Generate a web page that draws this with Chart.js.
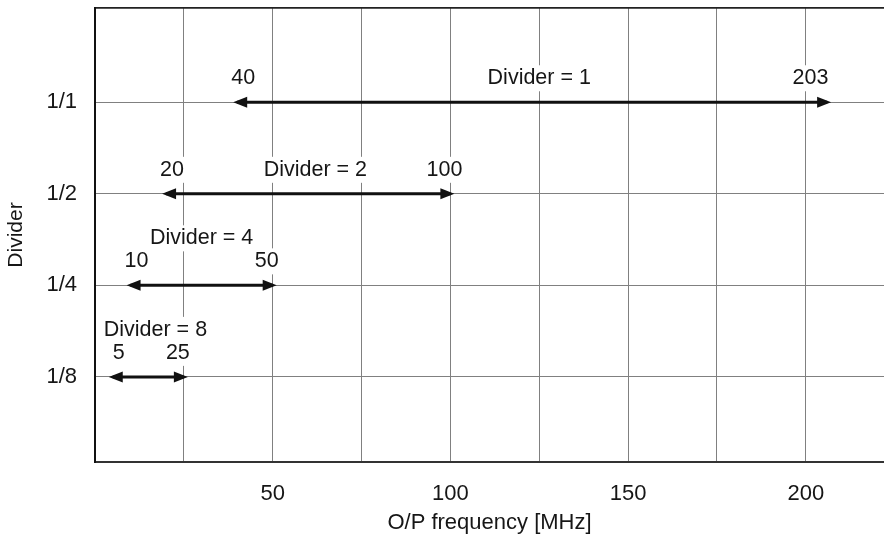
<!DOCTYPE html>
<html>
<head>
<meta charset="utf-8">
<script src="https://cdn.jsdelivr.net/npm/chart.js@4.4.0/dist/chart.umd.min.js"></script>
<style>
  html, body { margin: 0; padding: 0; background: #fff; }
  #wrap { width: 884px; height: 540px; }
</style>
</head>
<body>
<div id="wrap"><canvas id="myChart" width="884" height="540"></canvas></div>
<script>
// Divider rows (top to bottom) and their output frequency ranges in MHz
var dividerLabels = ['1/1', '1/2', '1/4', '1/8'];
var rowPos = [4, 3, 2, 1];
var startMHz = [40, 20, 10, 5];
var endMHz = [206, 100, 50, 25];
var startText = ['40', '20', '10', '5'];
var endText = ['203', '100', '50', '25'];
var captionText = ['Divider = 1', 'Divider = 2', 'Divider = 4', 'Divider = 8'];
var captionAt = [125, 62, 30, 17];
var captionRow = [0, 0, 1, 1];
var xTickLabels = [50, 100, 150, 200];

var FONT = "'Liberation Sans', Arial, Helvetica, sans-serif";
var TEXT = '#161616';

var datasets = [];
for (let i = 0; i < dividerLabels.length; i++) {
    datasets.push({
        label: captionText[i],
        data: [{ x: startMHz[i], y: rowPos[i] }, { x: endMHz[i], y: rowPos[i] }],
        borderColor: '#111',
        borderWidth: 3,
        pointRadius: 0,
        fill: false
    });
}

function boxText(ctx, txt, x, y) {
    const w = ctx.measureText(txt).width;
    ctx.fillStyle = '#fff';
    ctx.fillRect(x - w / 2 - 3, y - 13, w + 6, 26);
    ctx.fillStyle = TEXT;
    ctx.fillText(txt, x, y);
}

// number labels and captions, then arrow heads
const arrows = {
    id: 'arrows',
    beforeDatasetsDraw(chart) {
        const ctx = chart.ctx;
        const xs = chart.scales.x, ys = chart.scales.y;
        ctx.save();
        ctx.font = '21.5px ' + FONT;
        ctx.textAlign = 'center';
        ctx.textBaseline = 'middle';
        for (let i = 0; i < rowPos.length; i++) {
            const y = ys.getPixelForValue(rowPos[i]);
            boxText(ctx, startText[i], xs.getPixelForValue(parseFloat(startText[i])) + 6, y - 24);
            boxText(ctx, endText[i], xs.getPixelForValue(parseFloat(endText[i])) - 6, y - 24);
            boxText(ctx, captionText[i], xs.getPixelForValue(captionAt[i]), y - 24 - captionRow[i] * 23);
        }
        ctx.restore();
    },
    afterDatasetsDraw(chart) {
        const ctx = chart.ctx;
        ctx.save();
        ctx.fillStyle = '#111';
        chart.data.datasets.forEach(function (ds, i) {
            const pts = chart.getDatasetMeta(i).data;
            const a = pts[0], b = pts[pts.length - 1];
            // left head
            let tip = a.x - 4;
            ctx.beginPath();
            ctx.moveTo(tip, a.y);
            ctx.lineTo(tip + 14, a.y - 5.5);
            ctx.lineTo(tip + 14, a.y + 5.5);
            ctx.closePath();
            ctx.fill();
            // right head
            tip = b.x + 4;
            ctx.beginPath();
            ctx.moveTo(tip, b.y);
            ctx.lineTo(tip - 14, b.y - 5.5);
            ctx.lineTo(tip - 14, b.y + 5.5);
            ctx.closePath();
            ctx.fill();
        });
        ctx.restore();
    }
};

const config = {
    type: 'line',
    data: { datasets: datasets },
    options: {
        responsive: false,
        animation: false,
        layout: { padding: { top: 8, right: 0, left: 0, bottom: 0 } },
        plugins: { legend: { display: false }, tooltip: { enabled: false } },
        scales: {
            x: {
                type: 'linear',
                min: 0,
                max: 222,
                afterFit: function (s) { s.height = 78; s.paddingLeft = 0; s.paddingRight = 0; },
                grid: {
                    color: '#808080',
                    lineWidth: 1,
                    drawTicks: false
                },
                border: { display: true, color: '#333', width: 2 },
                ticks: {
                    stepSize: 25,
                    includeBounds: false,
                    autoSkip: false,
                    maxRotation: 0,
                    padding: 19,
                    color: TEXT,
                    font: { family: FONT, size: 22 },
                    callback: function (v) { return xTickLabels.indexOf(v) >= 0 ? String(v) : ''; }
                },
                title: {
                    display: true,
                    text: 'O/P frequency [MHz]',
                    color: TEXT,
                    font: { family: FONT, size: 22 },
                    padding: { top: 0, bottom: 4 }
                }
            },
            // top frame line
            x2: {
                type: 'linear',
                position: 'top',
                min: 0,
                max: 222,
                afterFit: function (s) { s.height = 0; s.paddingLeft = 0; s.paddingRight = 0; },
                grid: { display: false, drawTicks: false },
                border: { display: true, color: '#222', width: 1.7 },
                ticks: { display: false }
            },
            y: {
                type: 'linear',
                min: 0.07,
                max: 5.03,
                afterBuildTicks: function (s) { s.ticks = rowPos.map(function (v) { return { value: v }; }); },
                afterFit: function (s) { s.width = 95; s.paddingTop = 0; s.paddingBottom = 0; },
                grid: {
                    color: '#808080',
                    lineWidth: 1,
                    drawTicks: false
                },
                border: { display: true, color: '#111', width: 2 },
                ticks: {
                    autoSkip: false,
                    padding: 18,
                    color: TEXT,
                    font: { family: FONT, size: 22 },
                    callback: function (v) {
                        const k = rowPos.indexOf(v);
                        return k >= 0 ? dividerLabels[k] : '';
                    }
                },
                title: {
                    display: true,
                    text: 'Divider',
                    color: TEXT,
                    font: { family: FONT, size: 21 },
                    padding: { top: 4, bottom: 0 }
                }
            }
        }
    },
    plugins: [arrows]
};

var myChart = new Chart(document.getElementById('myChart'), config);
</script>
</body>
</html>
